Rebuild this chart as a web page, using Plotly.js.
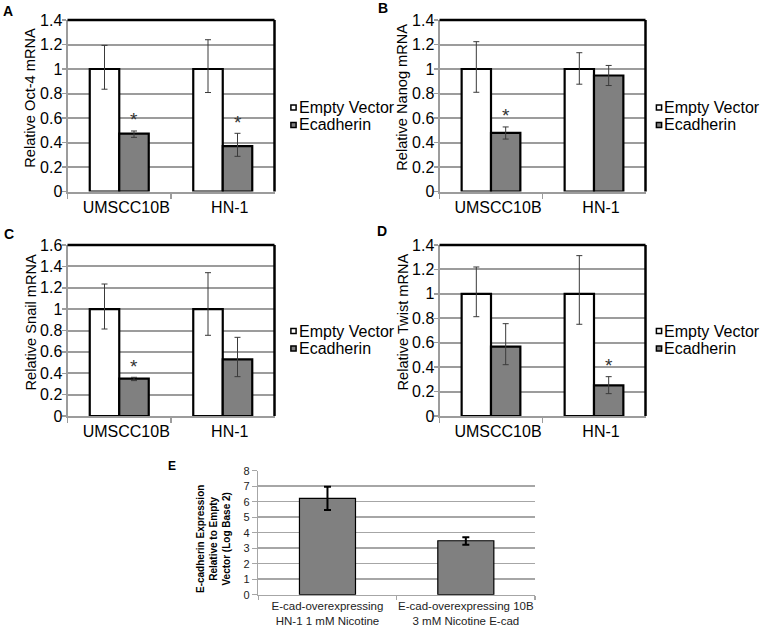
<!DOCTYPE html>
<html><head><meta charset="utf-8">
<script src="https://cdn.plot.ly/plotly-3.0.1.min.js"></script>
<style>html,body{margin:0;padding:0;background:#fff}#chart{width:764px;height:630px}</style>
</head><body><div id="chart"></div>
<script>
// ---------- DATA ----------
const categories = ['UMSCC10B', 'HN-1'];
const seriesNames = ['Empty Vector', 'Ecadherin'];

// Panel A: Oct-4
const octEmpty = [1, 1];
const octEmptyErrUp = [0.193, 0.239];
const octEmptyErrDown = [0.165, 0.192];
const octEcad = [0.472, 0.371];
const octEcadErrUp = [0.022, 0.104];
const octEcadErrDown = [0.030, 0.084];
const octSig = [true, true];

// Panel B: Nanog
const nanogEmpty = [1, 1];
const nanogEmptyErrUp = [0.223, 0.133];
const nanogEmptyErrDown = [0.19, 0.124];
const nanogEcad = [0.478, 0.947];
const nanogEcadErrUp = [0.049, 0.082];
const nanogEcadErrDown = [0.05, 0.082];
const nanogSig = [true, false];

// Panel C: Snail
const snailEmpty = [1, 1];
const snailEmptyErrUp = [0.235, 0.341];
const snailEmptyErrDown = [0.186, 0.245];
const snailEcad = [0.349, 0.530];
const snailEcadErrUp = [0.013, 0.206];
const snailEcadErrDown = [0.018, 0.162];
const snailSig = [true, false];

// Panel D: Twist
const twistEmpty = [1, 1];
const twistEmptyErrUp = [0.22, 0.313];
const twistEmptyErrDown = [0.187, 0.249];
const twistEcad = [0.568, 0.251];
const twistEcadErrUp = [0.188, 0.071];
const twistEcadErrDown = [0.148, 0.068];
const twistSig = [false, true];

// Panel E
const eCategories = ['E-cad-overexpressing<br>HN-1 1 mM Nicotine', 'E-cad-overexpressing 10B<br>3 mM Nicotine E-cad'];
const eValues = [6.21, 3.48];
const eErrUp = [0.76, 0.22];
const eErrDown = [0.75, 0.25];

const yTitles = ['Relative Oct-4 mRNA', 'Relative Nanog mRNA', 'Relative Snail mRNA', 'Relative Twist mRNA'];
const eYTitle = 'E-cadherin Expression<br>Relative to Empty<br>Vector (Log Base 2)';
const panelLetters = ['A', 'B', 'C', 'D', 'E'];

// ---------- LAYOUT HELPERS ----------
const W = 764, H = 630;
const FONT = 'Liberation Sans, Arial, Helvetica, sans-serif';
const px = v => v / W;
const py = v => 1 - v / H;
const GRID = '#9c9c9c';
const BARGAP = 0.43;

const panels = [
  {sfx: '',  empty: octEmpty, eu: octEmptyErrUp, ed: octEmptyErrDown, ecad: octEcad, cu: octEcadErrUp, cd: octEcadErrDown, sig: octSig, ymax: 1.4, box: [67.5, 274.5, 20, 191.5], label: [8, 11], legX: 293.5, legY: [107.5, 125]},
  {sfx: '2', empty: nanogEmpty, eu: nanogEmptyErrUp, ed: nanogEmptyErrDown, ecad: nanogEcad, cu: nanogEcadErrUp, cd: nanogEcadErrDown, sig: nanogSig, ymax: 1.4, box: [439.5, 645.5, 20, 191.5], label: [382.5, 8.5], legX: 659, legY: [107.5, 125]},
  {sfx: '3', empty: snailEmpty, eu: snailEmptyErrUp, ed: snailEmptyErrDown, ecad: snailEcad, cu: snailEcadErrUp, cd: snailEcadErrDown, sig: snailSig, ymax: 1.6, box: [67.5, 274.5, 245, 416], label: [9, 233.5], legX: 293.5, legY: [331, 348.5]},
  {sfx: '4', empty: twistEmpty, eu: twistEmptyErrUp, ed: twistEmptyErrDown, ecad: twistEcad, cu: twistEcadErrUp, cd: twistEcadErrDown, sig: twistSig, ymax: 1.4, box: [439.5, 645.5, 245, 416], label: [381.5, 231], legX: 659, legY: [331, 348.5]}
];

const data = [];
const layout = {
  width: W, height: H,
  margin: {l: 0, r: 0, t: 0, b: 0},
  paper_bgcolor: '#fff', plot_bgcolor: '#fff',
  font: {family: FONT, color: '#000', size: 16},
  showlegend: false,
  barmode: 'group',
  bargap: BARGAP,
  annotations: [],
  shapes: []
};

panels.forEach((p, k) => {
  const xa = 'x' + p.sfx, ya = 'y' + p.sfx;
  data.push({
    type: 'bar', name: seriesNames[0], x: categories, y: p.empty,
    xaxis: xa, yaxis: ya,
    marker: {color: '#ffffff', line: {color: '#000', width: 2.2}},
    error_y: {type: 'data', symmetric: false, array: p.eu, arrayminus: p.ed, color: '#3a3a3a', thickness: 1, width: 3},
    hoverinfo: 'skip'
  });
  data.push({
    type: 'bar', name: seriesNames[1], x: categories, y: p.ecad,
    xaxis: xa, yaxis: ya,
    marker: {color: '#808080', line: {color: '#000', width: 2.2}},
    error_y: {type: 'data', symmetric: false, array: p.cu, arrayminus: p.cd, color: '#3a3a3a', thickness: 1, width: 3},
    hoverinfo: 'skip'
  });
  const [x0, x1, y0, y1] = p.box;
  layout['xaxis' + p.sfx] = {
    domain: [px(x0), px(x1)], anchor: ya, type: 'category',
    showgrid: false, zeroline: false,
    showline: true, linecolor: GRID, linewidth: 2,
    ticks: 'outside', tickson: 'boundaries', ticklen: 5, tickwidth: 1.5, tickcolor: GRID,
    tickfont: {family: FONT, size: 16, color: '#000'},
    ticklabelshift: 7,
    fixedrange: true
  };
  layout['yaxis' + p.sfx] = {
    domain: [py(y1), py(y0)], anchor: xa,
    range: [0, p.ymax], dtick: 0.2, tick0: 0,
    showgrid: true, gridcolor: GRID, gridwidth: 2,
    zeroline: false,
    showline: true, linecolor: GRID, linewidth: 2,
    ticks: 'outside', ticklen: 4, tickwidth: 1.5, tickcolor: GRID,
    ticklabelstandoff: -4,
    tickfont: {family: FONT, size: 16, color: '#000'},
    fixedrange: true
  };
  // black top & right frame
  layout.shapes.push({type: 'line', xref: xa + ' domain', yref: ya + ' domain', x0: 0, x1: 1, y0: 1, y1: 1, line: {color: '#000', width: 2.5}});
  layout.shapes.push({type: 'line', xref: xa + ' domain', yref: ya + ' domain', x0: 1, x1: 1, y0: 0, y1: 1, line: {color: '#000', width: 2.5}});
  // y title
  layout.annotations.push({
    text: yTitles[k], xref: 'paper', yref: 'paper',
    x: px(x0 - 37.5), y: py((y0 + y1) / 2 - 8),
    xanchor: 'center', yanchor: 'middle', textangle: -90, showarrow: false,
    font: {family: FONT, size: 14.6, color: '#000'}
  });
  // panel letter
  layout.annotations.push({
    text: '<b>' + panelLetters[k] + '</b>', xref: 'paper', yref: 'paper',
    x: px(p.label[0]), y: py(p.label[1]), xanchor: 'center', yanchor: 'middle', showarrow: false,
    font: {family: FONT, size: 14, color: '#000'}
  });
  // legend
  const fills = ['#ffffff', '#808080'];
  seriesNames.forEach((nm, j) => {
    const cy = p.legY[j];
    layout.shapes.push({type: 'rect', xref: 'paper', yref: 'paper',
      x0: px(p.legX - 2.6), x1: px(p.legX + 2.6), y0: py(cy + 2.6), y1: py(cy - 2.6),
      fillcolor: fills[j], line: {color: '#000', width: 1.5}});
    layout.annotations.push({
      text: nm, xref: 'paper', yref: 'paper', x: px(p.legX + 3.2), y: py(cy),
      xanchor: 'left', yanchor: 'middle', showarrow: false,
      font: {family: FONT, size: 16, color: '#000'}
    });
  });
  // significance asterisks on Ecadherin bars
  const halfBar = (1 - BARGAP) / 4;
  p.sig.forEach((s, i) => {
    if (!s) return;
    layout.annotations.push({
      text: '*', xref: xa, yref: ya, x: i + halfBar, y: p.ecad[i] + p.cu[i],
      xanchor: 'center', yanchor: 'middle', yshift: 11, showarrow: false,
      font: {family: FONT, size: 19, color: '#333'}
    });
  });
});

// ---------- Panel E ----------
data.push({
  type: 'bar', name: 'E-cadherin', x: eCategories, y: eValues,
  xaxis: 'x5', yaxis: 'y5', width: 0.405,
  marker: {color: '#808080', line: {color: '#000', width: 1.2}},
  error_y: {type: 'data', symmetric: false, array: eErrUp, arrayminus: eErrDown, color: '#000', thickness: 2, width: 3.5},
  hoverinfo: 'skip'
});
layout.xaxis5 = {
  domain: [px(258.3), px(535)], anchor: 'y5', type: 'category',
  showgrid: false, zeroline: false,
  showline: true, linecolor: '#a6a6a6', linewidth: 1.5,
  ticks: 'outside', tickson: 'boundaries', ticklen: 4, tickwidth: 1.2, tickcolor: '#a6a6a6',
  tickangle: 0,
  tickfont: {family: FONT, size: 11.5, color: '#222'},
  fixedrange: true
};
layout.yaxis5 = {
  domain: [py(594.7), py(470.7)], anchor: 'x5',
  range: [0, 8], dtick: 1, tick0: 0,
  showgrid: true, gridcolor: '#a6a6a6', gridwidth: 1.5,
  zeroline: false,
  showline: true, linecolor: '#a6a6a6', linewidth: 1.5,
  ticks: 'outside', ticklen: 5, tickwidth: 1.2, tickcolor: '#a6a6a6',
  tickfont: {family: FONT, size: 11, color: '#222'},
  fixedrange: true
};
layout.annotations.push({
  text: '<b>' + eYTitle + '</b>', xref: 'paper', yref: 'paper',
  x: px(213), y: py(539), xanchor: 'center', yanchor: 'middle', textangle: -90, showarrow: false,
  font: {family: FONT, size: 10, color: '#000'}
});
layout.annotations.push({
  text: '<b>' + panelLetters[4] + '</b>', xref: 'paper', yref: 'paper',
  x: px(172), y: py(466), xanchor: 'center', yanchor: 'middle', showarrow: false,
  font: {family: FONT, size: 12, color: '#000'}
});

Plotly.newPlot('chart', data, layout, {displayModeBar: false, staticPlot: true});
</script>
</body></html>
